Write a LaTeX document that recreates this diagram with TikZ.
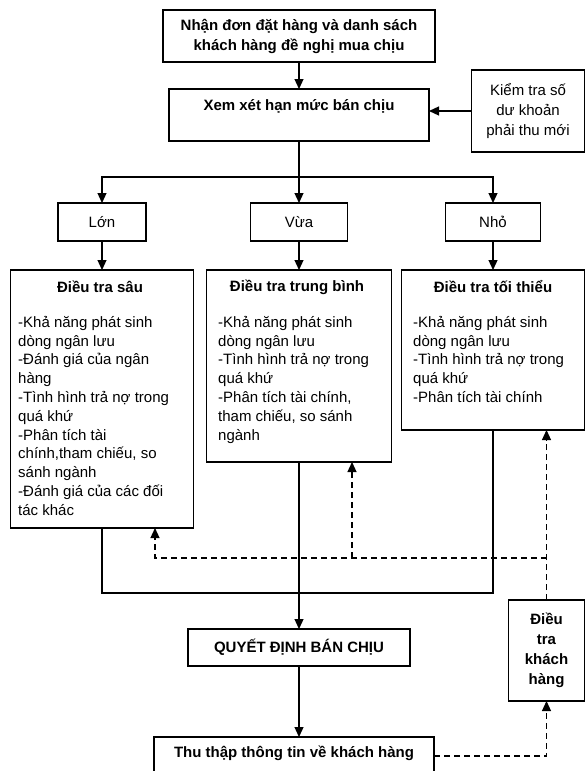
\documentclass[tikz,border=0pt]{standalone}
\usepackage{fontspec}
\setmainfont{Liberation Sans}
\usetikzlibrary{arrows.meta}

\tikzset{
  box/.style={draw, line width=1.2pt, inner sep=0pt, outer sep=0pt},
  line/.style={line width=1.2pt},
  arr/.style={line width=1.2pt, -{Triangle[length=10pt,width=9pt]}},
  dasharr/.style={arr, dash pattern=on 6pt off 4pt},
  head/.style={font=\bfseries\fontsize{15}{20}\selectfont, align=center, inner sep=0pt},
  plain/.style={font=\fontsize{15}{20}\selectfont, align=center},
  listtext/.style={font=\fontsize{15}{18.8}\selectfont, align=left, inner sep=0pt, anchor=north west},
}

\begin{document}
\begin{tikzpicture}[x=1pt,y=1pt,yscale=-1,xscale=1]
        \useasboundingbox (0,0) rectangle (586,771);
        \clip (0,0) rectangle (586,771);

        % Top
        \node [box, head, minimum width=272, minimum height=52] (order) at (299,36) {Nhận đơn đặt hàng và danh sách\\khách hàng đề nghị mua chịu};
        \node [box, minimum width=260, minimum height=52] (limit) at (299,115) {};
        \node [head] (limittxt) at (299,106) {Xem xét hạn mức bán chịu};
        \node [box, plain, minimum width=113, minimum height=82] (check) at (528,111) {Kiểm tra số\\dư khoản\\phải thu mới};

        % Size of the limit
        \node [box, plain, minimum width=88, minimum height=38] (large) at (102,222) {Lớn};
        \node [box, plain, minimum width=97, minimum height=38] (medium) at (299,222) {Vừa};
        \node [box, plain, minimum width=95, minimum height=38] (small) at (493,222) {Nhỏ};

        % Investigation boxes
        \node [box, minimum width=183, minimum height=258] (deep) at (102,399) {};
        \node [head] (deeptitle) at (100,287) {Điều tra sâu};
        \node [listtext] (deeplist) at (18,316) {-Khả năng phát sinh\\dòng ngân lưu\\-Đánh giá của ngân\\hàng\\-Tình hình trả nợ trong\\quá khứ\\-Phân tích tài\\chính,tham chiếu, so\\sánh ngành\\-Đánh giá của các đối\\tác khác};

        \node [box, minimum width=185, minimum height=192] (mid) at (299,366) {};
        \node [head] (midtitle) at (297,287) {Điều tra trung bình};
        \node [listtext] (midlist) at (218,316) {-Khả năng phát sinh\\dòng ngân lưu\\-Tình hình trả nợ trong\\quá khứ\\-Phân tích tài chính,\\tham chiếu, so sánh\\ngành};

        \node [box, minimum width=183, minimum height=160] (min) at (493,350) {};
        \node [head] (mintitle) at (493,287) {Điều tra tối thiểu};
        \node [listtext] (minlist) at (413,316) {-Khả năng phát sinh\\dòng ngân lưu\\-Tình hình trả nợ trong\\quá khứ\\-Phân tích tài chính};

        % Bottom
        \node [box, head, minimum width=222, minimum height=37] (decide) at (299,647.5) {QUYẾT ĐỊNH BÁN CHỊU};
        \node [box, head, minimum width=76, minimum height=101] (survey) at (546.5,650.5) {Điều\\tra\\khách\\hàng};
        \node [box, minimum width=280, minimum height=60] (collect) at (294,767) {};
        \node [head] (collecttxt) at (294,753) {Thu thập thông tin về khách hàng};

        % Points
        \coordinate (split) at (299,177);
        \coordinate (loop) at (0,593);
        \coordinate (fork) at (546.5,558);
        \coordinate (deepin) at (155,528);
        \coordinate (midin) at (352,462);
        \coordinate (collectout) at (434,756);

        % Solid connectors
        \draw [arr] (order) -- (limit);
        \draw [arr] (check.west) -- (check.west -| limit.east);
        \draw [line] (limit) -- (split);
        \draw [arr] (split) -| (large.north);
        \draw [arr] (split) -- (medium.north);
        \draw [arr] (split) -| (small.north);
        \draw [arr] (large) -- (deep);
        \draw [arr] (medium) -- (mid);
        \draw [arr] (small) -- (min);
        \draw [line] (deep.south) |- (loop -| min.south) -- (min.south);
        \draw [arr] (mid) -- (decide);
        \draw [arr] (decide.south) -- (decide.south |- collect.north);

        % Dashed connectors
        \draw [dasharr] (survey.north) -- (survey.north |- min.south);
        \draw [dasharr] (fork) -| (deepin);
        \draw [dasharr] (midin |- fork) -- (midin);
        \draw [dasharr] (collectout) -| (survey.south);

\end{tikzpicture}
\end{document}
